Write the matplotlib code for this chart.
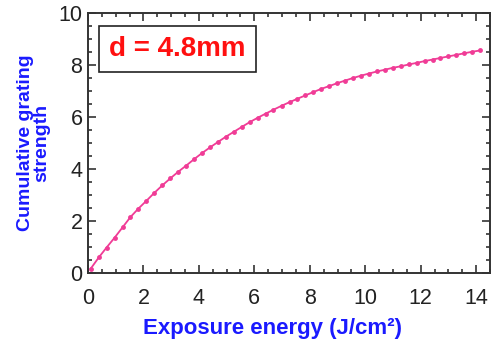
import numpy as np
import matplotlib.pyplot as plt
from matplotlib.ticker import MultipleLocator

plt.rcParams['font.family'] = ['Liberation Sans', 'DejaVu Sans']

# exposure energy (J/cm^2) and cumulative grating strength
energy = [0.10, 0.39, 0.67, 0.96, 1.25, 1.53, 1.82, 2.11, 2.39, 2.68,
          2.97, 3.25, 3.54, 3.83, 4.11, 4.40, 4.69, 4.97, 5.26, 5.55,
          5.83, 6.12, 6.41, 6.69, 6.98, 7.27, 7.55, 7.84, 8.13, 8.41,
          8.70, 8.99, 9.27, 9.56, 9.85, 10.13, 10.42, 10.71, 10.99, 11.28,
          11.57, 11.85, 12.14, 12.43, 12.71, 13.00, 13.29, 13.57, 13.86, 14.15]
strength = [0.17, 0.60, 0.98, 1.36, 1.76, 2.15, 2.48, 2.78, 3.08, 3.37,
            3.64, 3.89, 4.13, 4.38, 4.61, 4.83, 5.04, 5.24, 5.43, 5.62,
            5.80, 5.97, 6.13, 6.28, 6.43, 6.57, 6.70, 6.83, 6.96, 7.08,
            7.19, 7.30, 7.40, 7.50, 7.59, 7.67, 7.75, 7.82, 7.89, 7.95,
            8.02, 8.08, 8.15, 8.21, 8.27, 8.33, 8.39, 8.45, 8.51, 8.56]
label_text = "d = 4.8mm"

pink = '#f03c96'
blue = '#1a1aff'

fig = plt.figure(figsize=(4.98, 3.39), dpi=100)
ax = fig.add_axes([0.1767, 0.1947, 0.8073, 0.767])

ax.plot(energy, strength, '-', color=pink, lw=1.3)
ax.plot(energy, strength, 'o', color=pink, ms=3.5, mew=0)

ax.set_xlim(0, 14.5)
ax.set_ylim(0, 10)
ax.xaxis.set_major_locator(MultipleLocator(2))
ax.xaxis.set_minor_locator(MultipleLocator(0.5))
ax.yaxis.set_major_locator(MultipleLocator(2))
ax.yaxis.set_minor_locator(MultipleLocator(0.5))

for s in ax.spines.values():
    s.set_color('#333333')
    s.set_linewidth(1.4)

ax.tick_params(which='both', direction='in', top=True, right=True,
               color='#333333', width=1.2, labelsize=15.5, labelcolor='#222222')
ax.tick_params(which='major', length=6)
ax.tick_params(which='minor', length=3)
ax.tick_params(axis='x', pad=11)
ax.tick_params(axis='y', pad=4)

ax.set_xlabel('Exposure energy (J/cm²)', fontsize=16, fontweight='bold',
              color=blue)
ax.xaxis.set_label_coords(0.458, -0.175)
ax.set_ylabel('Cumulative grating\nstrength', fontsize=14, fontweight='bold',
              color=blue, labelpad=6, linespacing=0.95)

ax.text(0.053, 0.863, label_text, transform=ax.transAxes, fontsize=20,
        fontweight='bold', color='#ff1010', va='center', ha='left',
        bbox=dict(boxstyle='square,pad=0.36', fc='white', ec='#222222', lw=1.2))

fig.savefig('out.png', dpi=100)
